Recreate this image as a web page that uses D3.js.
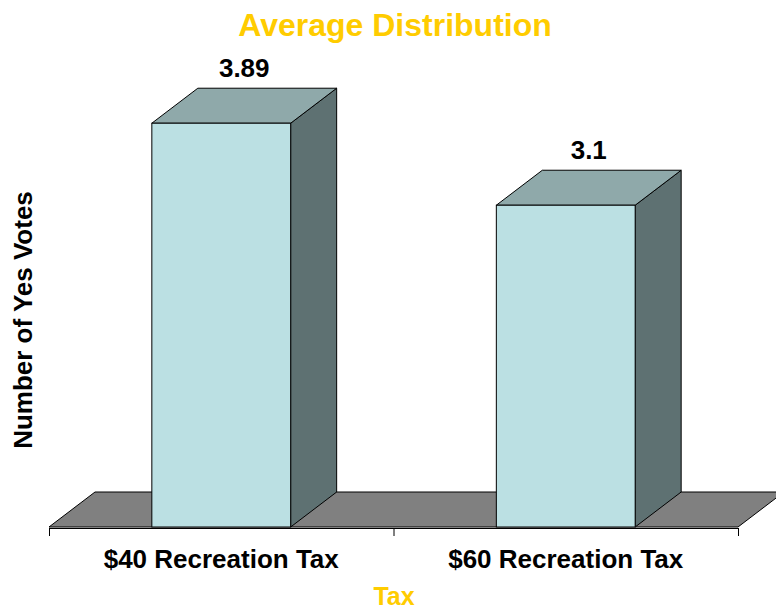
<!DOCTYPE html>
<html>
<head>
<meta charset="utf-8">
<script src="https://cdn.jsdelivr.net/npm/d3@7"></script>
<style>
  body { margin: 0; background: #fff; }
  text { font-family: "Liberation Sans", Arial, sans-serif; font-weight: bold; }
</style>
</head>
<body>
<div id="chart"></div>
<script>
// chart data
var categories = ["$40 Recreation Tax", "$60 Recreation Tax"];
var values = [3.89, 3.1];
var labels = ["3.89", "3.1"];

var width = 776, height = 611;
var left = 49, right = 738, floorY = 527;
var depthX = 46, depthY = 35;   // 3d offset

var svg = d3.select('#chart').append('svg')
    .attr('width', width)
    .attr('height', height);

var x = d3.scaleBand().domain(categories).range([left, right]);
var y = d3.scaleLinear().domain([0, 4.5]).range([floorY, floorY - 4.5 * 103.8]);
var barW = x.bandwidth() * 0.403;

// floor
svg.append('path')
    .attr('d', 'M' + left + ',' + floorY + 'L' + right + ',' + floorY +
        'L' + (right + depthX) + ',' + (floorY - depthY) +
        'L' + (left + depthX) + ',' + (floorY - depthY) + 'Z')
    .attr('fill', '#808080')
    .attr('stroke', '#000')
    .attr('stroke-width', 1);

// axis line + ticks
var axis = d3.axisBottom(d3.scaleLinear().domain([0, 2]).range([left, right]))
    .tickValues([0, 1, 2]).tickFormat('').tickSizeInner(8).tickSizeOuter(0);
svg.append('g')
    .attr('transform', 'translate(0,' + (floorY + 1) + ')')
    .call(axis)
    .call(function(g) { g.selectAll('line,path').attr('stroke', '#000'); });

// bars
var bars = svg.selectAll('.bar').data(values).enter().append('g').attr('class', 'bar');

bars.each(function(d, i) {
    var g = d3.select(this);
    var x0 = x(categories[i]) + (x.bandwidth() - barW) / 2;
    var x1 = x0 + barW;
    var yt = y(d), yb = y(0);
    // side
    g.append('path')
        .attr('d', 'M' + x1 + ',' + yb + 'L' + (x1 + depthX) + ',' + (yb - depthY) +
            'L' + (x1 + depthX) + ',' + (yt - depthY) + 'L' + x1 + ',' + yt + 'Z')
        .attr('fill', '#5E7172').attr('stroke', '#000').attr('stroke-width', 1);
    // top
    g.append('path')
        .attr('d', 'M' + x0 + ',' + yt + 'L' + x1 + ',' + yt +
            'L' + (x1 + depthX) + ',' + (yt - depthY) + 'L' + (x0 + depthX) + ',' + (yt - depthY) + 'Z')
        .attr('fill', '#8FA9AA').attr('stroke', '#000').attr('stroke-width', 1);
    // front
    g.append('rect')
        .attr('x', x0).attr('y', yt).attr('width', barW).attr('height', yb - yt)
        .attr('fill', '#BBE0E3').attr('stroke', '#000').attr('stroke-width', 1);
    // value label
    g.append('text')
        .attr('x', (x0 + x1) / 2 + depthX / 2)
        .attr('y', yt - depthY - 11)
        .attr('text-anchor', 'middle')
        .attr('font-size', 26)
        .attr('fill', '#000')
        .text(labels[i]);
});

// category labels
svg.selectAll('.cat').data(categories).enter().append('text')
    .attr('class', 'cat')
    .attr('x', function(d) { return x(d) + x.bandwidth() / 2; })
    .attr('y', 568)
    .attr('text-anchor', 'middle')
    .attr('font-size', 26)
    .attr('fill', '#000')
    .text(function(d) { return d; });

// title
svg.append('text')
    .attr('x', 395).attr('y', 36)
    .attr('text-anchor', 'middle')
    .attr('font-size', 32)
    .attr('fill', '#FFCC00')
    .text('Average Distribution');

// x axis title
svg.append('text')
    .attr('x', 394).attr('y', 605)
    .attr('text-anchor', 'middle')
    .attr('font-size', 25)
    .attr('fill', '#FFCC00')
    .text('Tax');

// y axis title
svg.append('text')
    .attr('transform', 'translate(32,320) rotate(-90)')
    .attr('text-anchor', 'middle')
    .attr('font-size', 26)
    .attr('fill', '#000')
    .text('Number of Yes Votes');
</script>
</body>
</html>
